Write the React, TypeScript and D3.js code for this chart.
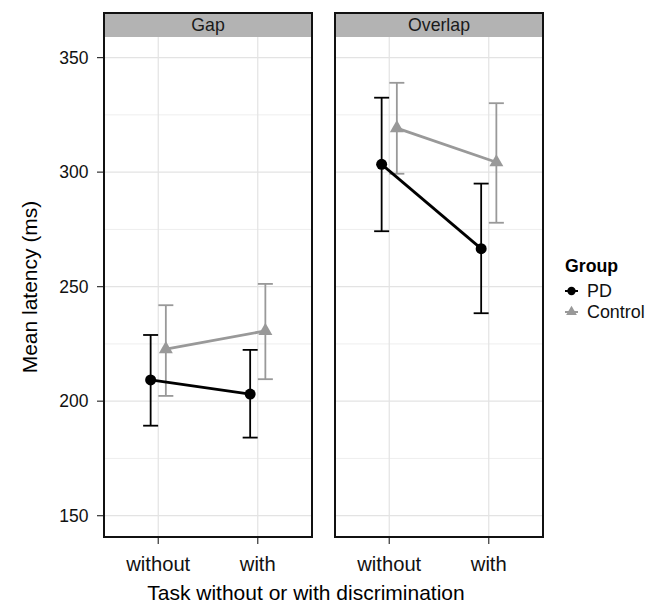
import React, { useEffect, useRef } from 'react';
import * as d3 from 'd3';

// order: Gap-without, Gap-with, Overlap-without, Overlap-with
const panels = ['Gap', 'Overlap'];
const conditions = ['without', 'with'];
const groups = ['PD', 'Control'];

const pdMean = [209.3, 203.1, 303.4, 266.6];
const pdLower = [189.3, 184.1, 274.2, 238.4];
const pdUpper = [228.9, 222.4, 332.5, 295.0];

const controlMean = [222.7, 230.7, 319.2, 304.3];
const controlLower = [202.3, 209.6, 299.3, 277.9];
const controlUpper = [241.9, 251.2, 339.0, 330.1];

const yTicks = [150, 200, 250, 300, 350];
const yMinorTicks = [175, 225, 275, 325];

const App = () => {
    const ref = useRef<SVGSVGElement>(null);

    useEffect(() => {
        const width = 660;
        const height = 603;
        const font = '"Liberation Sans", Arial, Helvetica, sans-serif';

        const panelLeft = [104, 335];
        const panelW = 208;
        const plotTop = 37;
        const plotBottom = 537;
        const stripTop = 13;

        const colors = { PD: '#000000', Control: '#999999' };
        const dodge = { PD: -7.6, Control: 7.6 };

        const y = d3.scaleLinear().domain([140.7, 359]).range([plotBottom, plotTop]);
        const x = d3.scalePoint().domain(conditions).range([0, panelW]).padding(0.545);

        const series = {
            PD: { mean: pdMean, lo: pdLower, hi: pdUpper },
            Control: { mean: controlMean, lo: controlLower, hi: controlUpper }
        };

        const svg = d3.select(ref.current);
        svg.selectAll('*').remove();
        svg.attr('width', width).attr('height', height).style('font-family', font);

        panels.forEach((panel, pi) => {
            const g = svg.append('g').attr('transform', `translate(${panelLeft[pi]},0)`);

            // grid
            g.selectAll('line.minor')
                .data(yMinorTicks)
                .join('line')
                .attr('x1', 0).attr('x2', panelW)
                .attr('y1', d => y(d)).attr('y2', d => y(d))
                .attr('stroke', '#eeeeee').attr('stroke-width', 1);
            g.selectAll('line.major')
                .data(yTicks)
                .join('line')
                .attr('x1', 0).attr('x2', panelW)
                .attr('y1', d => y(d)).attr('y2', d => y(d))
                .attr('stroke', '#e3e3e3').attr('stroke-width', 1.2);
            g.selectAll('line.vgrid')
                .data(conditions)
                .join('line')
                .attr('x1', d => x(d)).attr('x2', d => x(d))
                .attr('y1', plotTop).attr('y2', plotBottom)
                .attr('stroke', '#e3e3e3').attr('stroke-width', 1.2);

            // strip
            g.append('rect')
                .attr('x', 0).attr('y', stripTop)
                .attr('width', panelW).attr('height', plotTop - stripTop)
                .attr('fill', '#b3b3b3');
            g.append('text')
                .attr('x', panelW / 2).attr('y', 30.7)
                .attr('text-anchor', 'middle')
                .style('font-size', '17.7px')
                .attr('fill', '#1a1a1a')
                .text(panel);

            // series: control first so PD sits on top
            ['Control', 'PD'].forEach(grp => {
                const s = series[grp];
                const idx = conditions.map((_, ci) => pi * 2 + ci);
                const pts = idx.map((k, ci) => ({
                    cx: x(conditions[ci]) + dodge[grp],
                    m: s.mean[k], lo: s.lo[k], hi: s.hi[k]
                }));

                const eb = g.append('g').attr('stroke', colors[grp]).attr('stroke-width', 1.8);
                pts.forEach(p => {
                    eb.append('line').attr('x1', p.cx).attr('x2', p.cx).attr('y1', y(p.lo)).attr('y2', y(p.hi));
                    eb.append('line').attr('x1', p.cx - 7.5).attr('x2', p.cx + 7.5).attr('y1', y(p.lo)).attr('y2', y(p.lo));
                    eb.append('line').attr('x1', p.cx - 7.5).attr('x2', p.cx + 7.5).attr('y1', y(p.hi)).attr('y2', y(p.hi));
                });

                const line = d3.line<any>().x(p => p.cx).y(p => y(p.m));
                g.append('path')
                    .attr('d', line(pts))
                    .attr('fill', 'none')
                    .attr('stroke', colors[grp])
                    .attr('stroke-width', 2.8);

                const sym = grp === 'PD'
                    ? d3.symbol().type(d3.symbolCircle).size(Math.PI * 5.5 * 5.5)
                    : d3.symbol().type(d3.symbolTriangle).size(85);
                g.selectAll(null)
                    .data(pts)
                    .join('path')
                    .attr('transform', p => `translate(${p.cx},${y(p.m)})`)
                    .attr('d', sym())
                    .attr('fill', colors[grp]);
            });

            // border
            g.append('rect')
                .attr('x', 0).attr('y', stripTop)
                .attr('width', panelW).attr('height', plotBottom - stripTop)
                .attr('fill', 'none')
                .attr('stroke', '#111')
                .attr('stroke-width', 2);

            // x axis ticks and labels
            g.selectAll('line.xtick')
                .data(conditions)
                .join('line')
                .attr('x1', d => x(d)).attr('x2', d => x(d))
                .attr('y1', plotBottom + 1).attr('y2', plotBottom + 7)
                .attr('stroke', '#333').attr('stroke-width', 1.2);
            g.selectAll('text.xlab')
                .data(conditions)
                .join('text')
                .attr('x', d => x(d)).attr('y', 571)
                .attr('text-anchor', 'middle')
                .style('font-size', '20.2px')
                .attr('fill', '#111')
                .text(d => d);
        });

        // y axis
        const ya = svg.append('g');
        ya.selectAll('line')
            .data(yTicks)
            .join('line')
            .attr('x1', 97).attr('x2', 103)
            .attr('y1', d => y(d)).attr('y2', d => y(d))
            .attr('stroke', '#333').attr('stroke-width', 1.2);
        ya.selectAll('text')
            .data(yTicks)
            .join('text')
            .attr('x', 88.5).attr('y', d => y(d))
            .attr('dy', '0.36em')
            .attr('text-anchor', 'end')
            .style('font-size', '17.5px')
            .attr('fill', '#111')
            .text(d => d);

        // axis titles
        svg.append('text')
            .attr('transform', `translate(36.5,${(plotTop + plotBottom) / 2}) rotate(-90)`)
            .attr('text-anchor', 'middle')
            .style('font-size', '21px')
            .text('Mean latency (ms)');
        svg.append('text')
            .attr('x', 306).attr('y', 600)
            .attr('text-anchor', 'middle')
            .style('font-size', '21px')
            .text('Task without or with discrimination');

        // legend
        const lg = svg.append('g');
        lg.append('text')
            .attr('x', 565).attr('y', 272)
            .style('font-size', '17.7px')
            .style('font-weight', 'bold')
            .text('Group');
        groups.forEach((grp, i) => {
            const cy = 291 + i * 21;
            lg.append('line')
                .attr('x1', 565).attr('x2', 578)
                .attr('y1', cy).attr('y2', cy)
                .attr('stroke', colors[grp]).attr('stroke-width', 2);
            const sym = grp === 'PD'
                ? d3.symbol().type(d3.symbolCircle).size(Math.PI * 4.2 * 4.2)
                : d3.symbol().type(d3.symbolTriangle).size(50);
            lg.append('path')
                .attr('transform', `translate(571.5,${cy})`)
                .attr('d', sym())
                .attr('fill', colors[grp]);
            lg.append('text')
                .attr('x', 587).attr('y', cy)
                .attr('dy', '0.36em')
                .style('font-size', '17.9px')
                .attr('fill', '#111')
                .text(grp);
        });
    }, []);

    return (
        <svg ref={ref} style={{ position: 'absolute', left: 0, top: 0 }} />
    );
};

export default App;
